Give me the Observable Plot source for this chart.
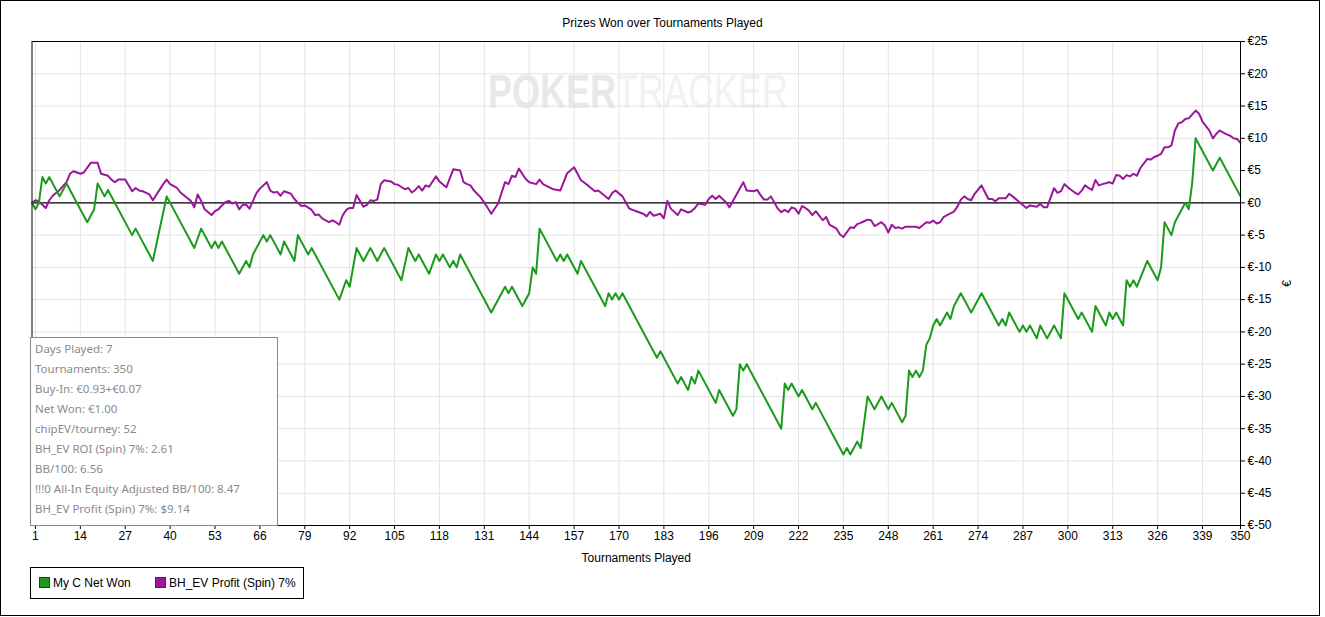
<!DOCTYPE html>
<html>
<head>
<meta charset="utf-8">
<script src="https://cdn.jsdelivr.net/npm/d3@7"></script>
<script src="https://cdn.jsdelivr.net/npm/@observablehq/plot@0.6"></script>
<style>
  html, body { margin: 0; padding: 0; background: #fff; }
  #wrap { position: relative; width: 1325px; height: 617px; overflow: hidden; font-family: "Liberation Sans", Arial, sans-serif; }
  #border { position: absolute; left: 0; top: 0; width: 1318px; height: 614px; border: 1px solid #000; }
  #title { position: absolute; left: 0; width: 1325px; top: 16px; text-align: center; font-size: 12px; color: #000; }
  #watermark { position: absolute; left: 488px; top: 64px; font-family: "Liberation Sans", Arial, sans-serif; font-size: 48px; line-height: normal; font-weight: bold; color: #e8e8e8; white-space: nowrap; transform-origin: 0 0; }
  #watermark span.light { font-weight: normal; color: #f1f1f1; }
  #chart { position: absolute; left: 0; top: 0; }
  #stats { position: absolute; left: 30px; top: 337px; width: 246px; height: 187px; border: 1px solid #8a8a8a; background: #fff; font-family: "Noto Sans", "Open Sans", sans-serif; font-size: 11.5px; color: #8a8a8a; }
  #stats div { position: absolute; left: 4px; }
  #legend { position: absolute; left: 30px; top: 567px; width: 272px; height: 30px; border: 1px solid #000; font-size: 12px; }
  .li { position: absolute; top: 8px; white-space: nowrap; }
  .sw { display: inline-block; width: 9px; height: 9px; border: 1px solid #333; vertical-align: -1px; margin-right: 3px; }
</style>
</head>
<body>
<div id="wrap">
  <div id="watermark">POKER<span class="light">TRACKER</span></div>
  <div id="chart"></div>
  <div id="title"></div>
  <div id="stats"></div>
  <div id="legend"></div>
  <div id="border"></div>
</div>
<script>
// ---- data ----
const titleText = "Prizes Won over Tournaments Played";
const xLabel = "Tournaments Played";
const yLabel = "€";
const xTicks = [1, 14, 27, 40, 53, 66, 79, 92, 105, 118, 131, 144, 157, 170, 183, 196, 209, 222, 235, 248, 261, 274, 287, 300, 313, 326, 339, 350];
const yTicks = [-50, -45, -40, -35, -30, -25, -20, -15, -10, -5, 0, 5, 10, 15, 20, 25];
const seriesNames = ["My C Net Won", "BH_EV Profit (Spin) 7%"];
const seriesColors = ["#1c9a1c", "#9b169b"];
const statLines = [
  "Days Played: 7",
  "Tournaments: 350",
  "Buy-In: €0.93+€0.07",
  "Net Won: €1.00",
  "chipEV/tourney: 52",
  "BH_EV ROI (Spin) 7%: 2.61",
  "BB/100: 6.56",
  "!!!0 All-In Equity Adjusted BB/100: 8.47",
  "BH_EV Profit (Spin) 7%: $9.14"
];

// Green: tournament number at each turning point
const greenT = [0,1,2,3,4,5,8,10,16,18,19,21,22,29,30,35,39,47,49,52,53,54,55,60,62,63,64,67,68,69,72,73,76,77,80,81,89,91,92,94,96,98,100,102,107,109,111,112,115,117,118,119,121,122,123,124,133,137,138,139,142,144,145,146,147,152,153,154,155,158,159,166,167,168,169,170,171,181,182,187,188,190,191,192,193,198,199,203,204,205,206,207,217,218,219,220,222,223,226,227,231,235,236,237,239,240,242,244,246,248,249,252,253,254,255,256,257,258,259,260,261,262,263,265,266,267,269,272,275,280,281,282,283,286,287,288,289,291,292,294,296,298,299,303,304,307,308,311,312,313,314,316,317,318,319,320,323,326,327,328,330,331,334,335,336,337,342,344,350];
const greenV = [0,-1,0,4,3,4,1,3,-3,-1,3,1,2,-5,-4,-9,1,-7,-4,-7,-6,-7,-6,-11,-9,-10,-8,-5,-6,-5,-8,-6,-9,-5,-8,-7,-15,-12,-13,-7,-9,-7,-9,-7,-12,-7,-9,-8,-11,-8,-9,-8,-10,-9,-10,-8,-17,-13,-14,-13,-16,-14,-10,-11,-4,-9,-8,-9,-8,-11,-9,-16,-14,-15,-14,-15,-14,-24,-23,-28,-27,-29,-27,-28,-26,-31,-29,-33,-32,-25,-26,-25,-35,-28,-29,-28,-30,-29,-32,-31,-35,-39,-38,-39,-37,-38,-30,-32,-30,-32,-31,-34,-33,-26,-27,-26,-27,-26,-22,-21,-19,-18,-19,-17,-18,-16,-14,-17,-14,-19,-18,-19,-17,-20,-19,-20,-19,-21,-19,-21,-19,-21,-14,-18,-17,-20,-16,-19,-17,-18,-17,-19,-12,-13,-12,-13,-9,-12,-10,-3,-5,-3,0,-1,3,10,5,7,1];

// Purple: tournament number at each turning point
const purpleT = [0,1,2,4,5,6,8,10,11,12,14,15,17,19,20,22,23,24,25,27,29,30,31,32,34,35,38,39,40,42,43,46,47,48,49,50,52,53,54,55,56,57,58,59,60,61,62,63,64,65,66,68,69,70,71,72,73,74,75,76,77,78,79,81,82,83,84,86,87,88,89,90,91,92,93,94,95,96,97,98,99,100,101,102,104,105,106,108,109,110,111,112,113,114,115,117,118,120,122,124,125,126,127,128,130,132,133,135,137,138,139,140,141,143,144,146,147,148,151,153,155,157,159,161,163,164,167,168,169,171,173,175,177,178,179,180,182,183,184,185,187,188,190,191,192,193,195,196,197,198,199,201,202,206,207,209,210,211,212,213,214,216,217,218,219,220,221,222,223,224,225,226,227,229,230,231,232,233,234,235,237,238,239,240,241,242,243,244,246,247,248,249,250,251,252,253,256,257,259,260,261,262,263,264,265,267,268,269,270,271,272,273,275,276,277,278,279,280,282,283,284,286,288,289,291,292,293,294,296,297,298,299,300,301,302,303,304,305,306,307,308,309,310,312,313,314,315,316,317,318,319,320,321,323,324,325,326,327,328,329,330,331,332,333,334,335,337,338,339,340,341,342,343,344,346,347,348,349,350];
const purpleV = [0,0.4,0.2,-0.8,0.4,1.1,2.0,3.2,4.5,4.9,4.5,4.7,6.2,6.2,4.5,4.2,3.6,3.2,3.6,3.6,1.8,2.3,1.9,1.8,1.3,0.4,2.9,3.6,2.9,2.3,1.6,0.3,-0.7,1.3,0.3,-1.0,-1.9,-1.3,-1.0,-0.4,0.1,0.3,-0.1,0.1,-1.0,-0.3,-0.3,-0.9,0.3,1.5,2.2,3.2,1.9,1.6,1.7,1.1,1.8,1.6,1.4,0.6,0.0,-0.5,-0.4,-1.1,-1.9,-1.8,-2.4,-3.0,-2.7,-3.0,-3.4,-1.9,-1.1,-0.8,-0.8,1.2,0.3,-0.6,-0.3,0.4,0.3,0.5,2.9,3.5,3.3,2.9,2.8,2.1,2.3,1.6,2.0,2.6,1.9,2.7,2.5,4.1,3.3,2.4,5.2,5.0,3.2,2.9,2.7,1.9,0.8,-0.8,-1.7,-0.1,3.2,2.9,4.2,4.0,5.3,3.7,3.2,2.9,3.6,2.9,2.1,1.9,4.6,5.5,3.5,2.7,1.8,1.9,0.6,1.5,1.9,1.0,-0.9,-1.3,-1.7,-2.1,-1.4,-2.0,-1.7,-2.4,0.3,-0.9,-1.9,-1.0,-1.5,-1.3,-0.8,-0.1,-0.3,0.6,1.1,0.6,1.1,0.1,-0.7,3.2,1.9,1.8,2.0,1.2,0.5,0.5,1.0,-0.9,-1.45,-1.1,-1.45,-0.7,-0.9,-1.7,-0.5,-0.8,-1.2,-1.9,-1.3,-2.7,-2.2,-3.4,-3.7,-4.0,-4.9,-5.3,-3.8,-3.9,-3.3,-3.1,-2.85,-2.6,-2.7,-3.6,-3.0,-3.5,-4.6,-3.4,-3.9,-3.8,-4.0,-3.7,-3.7,-3.9,-3.0,-3.1,-2.75,-3.2,-3.0,-2.2,-1.9,-1.35,-0.6,0.5,1.0,0.6,0.4,1.4,2.7,1.65,0.6,0.6,0.25,0.7,0.7,1.4,1.0,0.1,-0.8,-0.4,-0.6,-0.16,-0.67,-0.67,2.27,1.55,1.8,2.9,2.4,2.0,1.6,1.3,1.9,2.7,2.3,2.0,3.55,2.7,2.9,3.2,3.0,4.3,4.2,3.7,4.3,4.1,4.5,4.2,5.4,6.8,6.7,7.1,7.3,7.6,8.6,8.6,8.9,11.2,12.3,12.5,13.0,13.1,14.3,13.8,12.6,11.9,11.2,10.0,10.7,11.2,10.6,10.4,10.0,9.9,9.3];

// ---- build tables ----
const green = greenT.map((t, i) => ({t, v: greenV[i]}));
const purple = purpleT.map((t, i) => ({t, v: purpleV[i]}));

const chart = Plot.plot({
  width: 1325,
  height: 566,
  marginLeft: 31.5,
  marginRight: 85,
  marginTop: 41,
  marginBottom: 41,
  style: {fontFamily: "'Liberation Sans', Arial, sans-serif", fontSize: "12px", background: "transparent", color: "#000", overflow: "visible"},
  x: {domain: [0, 350]},
  y: {domain: [-50, 25]},
  marks: [
    Plot.gridX(xTicks, {stroke: "#e4e4e4", strokeOpacity: 1}),
    Plot.gridY(yTicks, {stroke: "#e4e4e4", strokeOpacity: 1}),
    Plot.ruleY([0], {stroke: "#000", strokeWidth: 1.2}),
    Plot.line(purple, {x: "t", y: "v", stroke: seriesColors[1], strokeWidth: 2}),
    Plot.line(green, {x: "t", y: "v", stroke: seriesColors[0], strokeWidth: 2}),
    Plot.frame({stroke: "#000"}),
    Plot.axisX(xTicks, {anchor: "bottom", tickSize: 4, tickPadding: 2, tickFormat: d => String(d), label: xLabel, labelAnchor: "center", labelArrow: "none", labelOffset: 36}),
    Plot.axisY(yTicks, {anchor: "right", tickSize: 4, tickPadding: 3, tickFormat: d => "€" + d, label: yLabel, labelAnchor: "center", labelArrow: "none", labelOffset: 50})
  ]
});
document.getElementById("chart").appendChild(chart);
document.getElementById("title").textContent = titleText;

// fit watermark to its width
const wm = document.getElementById("watermark");
const wmW = wm.getBoundingClientRect().width;
wm.style.transform = "scaleX(" + (300 / wmW) + ")";

const stats = document.getElementById("stats");
statLines.forEach((s, i) => {
  const d = document.createElement("div");
  d.textContent = s;
  d.style.top = (3 + i * 20) + "px";
  stats.appendChild(d);
});

const legend = document.getElementById("legend");
const lx = [8, 124];
seriesNames.forEach((n, i) => {
  const d = document.createElement("div");
  d.className = "li";
  d.style.left = lx[i] + "px";
  const sw = document.createElement("span");
  sw.className = "sw";
  sw.style.background = seriesColors[i];
  d.appendChild(sw);
  d.appendChild(document.createTextNode(n));
  legend.appendChild(d);
});
</script>
</body>
</html>
